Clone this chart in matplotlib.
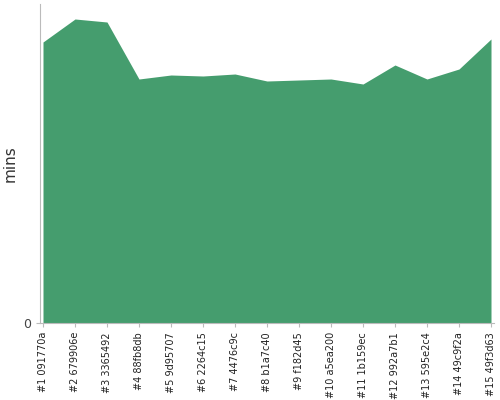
import matplotlib
matplotlib.use('Agg')
import matplotlib.pyplot as plt

labels = ['#1 091770a', '#2 679906e', '#3 3365492', '#4 88fb8db', '#5 9d95707',
          '#6 2264c15', '#7 4476c9c', '#8 b1a7c40', '#9 f182d45', '#10 a5ea200',
          '#11 1b159ec', '#12 992a7b1', '#13 595e2c4', '#14 49c9f2a', '#15 49f3d63']
mins = [281, 304, 301, 244, 248, 247, 249, 242, 243, 244, 239, 258, 244, 254, 284]

x = list(range(len(labels)))

fig = plt.figure(figsize=(5, 4), dpi=100)
ax = fig.add_axes([40 / 500, 1 - 323 / 400, 454 / 500, 319 / 400])

ax.fill_between(x, 0, mins, color='#459d6e', linewidth=0)

ax.set_xlim(-3 / 32, 14 + 3 / 32)
ax.set_ylim(0, 319)
ax.set_xticks(x)
ax.set_xticklabels(labels, rotation=90, fontsize=7, color='#222222')
ax.set_yticks([0])
ax.set_yticklabels(['0'], fontsize=9, color='#444444')
ax.tick_params(axis='both', color='#bbbbbb', length=3)
ax.set_ylabel('mins', fontsize=11, color='#333333')
ax.yaxis.set_label_coords(-22 / 454, 0.5)

for side in ['top', 'right']:
    ax.spines[side].set_visible(False)
for side in ['left', 'bottom']:
    ax.spines[side].set_color('#bbbbbb')

fig.savefig('out.png', dpi=100)
